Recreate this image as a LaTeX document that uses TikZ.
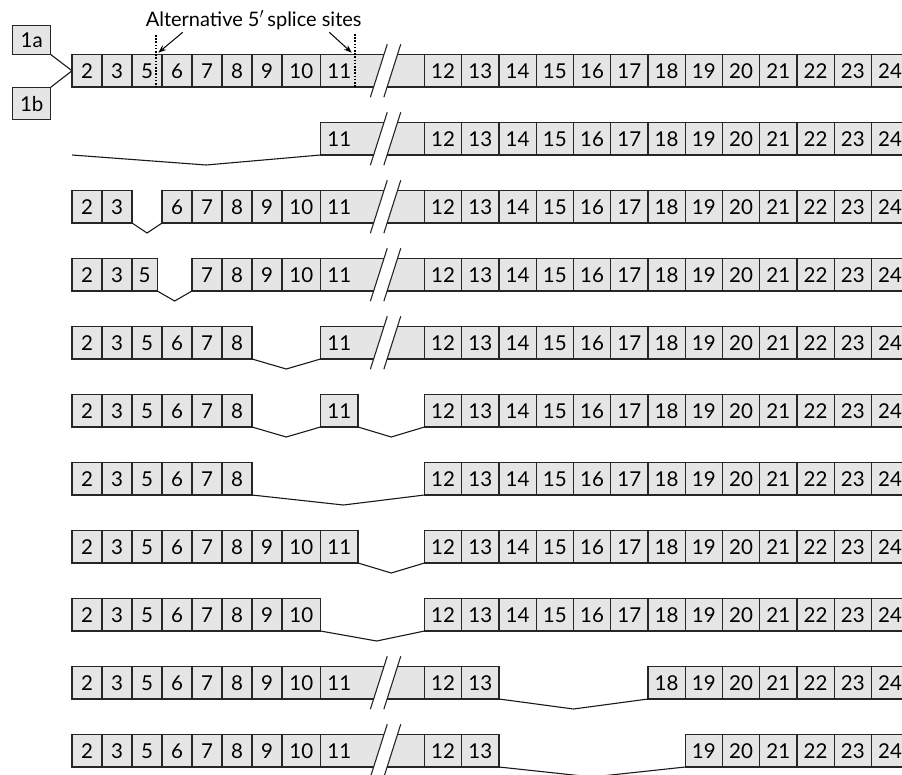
\documentclass[tikz,border=0pt]{standalone}
\usepackage{fontspec}
\setmainfont{Lato}
\usetikzlibrary{arrows.meta,calc}
\newcommand\cellfont{\fontsize{20.5}{20.5}\selectfont}
\newcommand\lblfont{\fontsize{20}{20}\selectfont}
\tikzset{
  exon/.style={draw=black!85, fill=black!10, line width=1.1pt, minimum height=32.5pt,
    inner sep=0pt, outer sep=0pt, anchor=north west, font=\cellfont},
  exlabel/.style={inner sep=0pt, font=\cellfont},
  intron/.style={draw=black!90, line width=1.1pt},
  slash/.style={draw=black!85, line width=1.1pt},
  site/.style={draw=black, line width=1.2pt, dash pattern=on 1.6pt off 1.6pt},
  pointer/.style={draw=black, line width=1pt, -{Stealth[length=8pt,width=6pt]}},
}
\newcommand\cells[2]{\pgfmathsetmacro\rowtop{54.5+68*(#1-1)}%
  \foreach \n/\xx/\w/\t in {#2}{\node[exon,minimum width=\w pt] (r#1e\n) at (\xx,\rowtop) {\t};}}
\newcommand\rcells[2]{\pgfmathsetmacro\rowtop{54.5+68*(#1-1)}%
  \foreach \k in {#2}{\node[exon,minimum width=37.25pt] (r#1e\k) at ({424.5+37.25*(\k-12)},\rowtop) {\k};}}
\newcommand\longeleven[1]{\pgfmathsetmacro\rowtop{54.5+68*(#1-1)}%
  \node[exon,minimum width=104pt] (r#1e11) at (320.5,\rowtop) {};}
\newcommand\elevenlabel[1]{\pgfmathsetmacro\rowtop{54.5+68*(#1-1)}%
  \node[exlabel] (r#1t11) at (339.25,{\rowtop+16.25}) {11};}
\newcommand\brk[1]{\pgfmathsetmacro\rowtop{54.5+68*(#1-1)}%
  \pgfmathsetmacro\brya{\rowtop-1.5}\pgfmathsetmacro\bryb{\rowtop+34}\pgfmathsetmacro\bryc{\rowtop+16.25}%
  \fill[white] ({378.8-0.319*(\brya-\bryc)},\brya) -- ({392.3-0.319*(\brya-\bryc)},\brya)
     -- ({392.3-0.319*(\bryb-\bryc)},\bryb) -- ({378.8-0.319*(\bryb-\bryc)},\bryb) -- cycle;
  \draw[slash] (370.35,{\bryc+26.5}) -- (387.25,{\bryc-26.5});
  \draw[slash] (383.85,{\bryc+26.5}) -- (400.75,{\bryc-26.5});}
\newcommand\intron[3]{\draw[intron] (#1) -- ($(#1)!#3!(#2)+(0,10)$) -- (#2);}
\begin{document}
\begin{tikzpicture}[x=1pt,y=-1pt]
\useasboundingbox (0,0) rectangle (902,774);
\clip (0,0) rectangle (902,774);
% row 1
\node[exon, minimum width=38pt, minimum height=29pt] (e1a) at (12.7,25.5) {1a};
\node[exon, minimum width=38pt] (e1b) at (12.7,87.3) {1b};
\cells{1}{2/72/30/2,3/102/30/3,5/132/30/5,6/162/30/6,7/192/30/7,8/222/30/8,9/252/30/9,10/282/38.5/10}
\longeleven{1}\rcells{1}{12,...,24}\brk{1}\elevenlabel{1}
\draw[intron] (e1a.south east) -- (r1e2.west);
\draw[intron] (e1b.north east) -- (r1e2.west);
\draw[site] (156,35) -- (156,87);
\draw[site] (355,34) -- (355,87);
\node[anchor=base, inner sep=0pt, font=\lblfont] (lbl) at (253.7,26) {Alternative 5$'$\,splice sites};
\coordinate (tipL) at (158.3,52.7);
\coordinate (tipR) at (351.7,52.7);
\draw[pointer] (182.7,32.3) -- (tipL);
\draw[pointer] (329.3,32.3) -- (tipR);
% row 2
\longeleven{2}\rcells{2}{12,...,24}\brk{2}\elevenlabel{2}
\coordinate (r2s) at (72,155);
\intron{r2s}{r2e11.south west}{0.54}
% row 3
\cells{3}{2/72/30/2,3/102/30/3,6/162/30/6,7/192/30/7,8/222/30/8,9/252/30/9,10/282/38.5/10}
\longeleven{3}\rcells{3}{12,...,24}\brk{3}\elevenlabel{3}
\intron{r3e3.south east}{r3e6.south west}{0.5}
% row 4
\cells{4}{2/72/30/2,3/102/30/3,5/132/25.3/5,7/192/30/7,8/222/30/8,9/252/30/9,10/282/38.5/10}
\longeleven{4}\rcells{4}{12,...,24}\brk{4}\elevenlabel{4}
\intron{r4e5.south east}{r4e7.south west}{0.5}
% row 5
\cells{5}{2/72/30/2,3/102/30/3,5/132/30/5,6/162/30/6,7/192/30/7,8/222/30/8}
\longeleven{5}\rcells{5}{12,...,24}\brk{5}\elevenlabel{5}
\intron{r5e8.south east}{r5e11.south west}{0.5}
% row 6
\cells{6}{2/72/30/2,3/102/30/3,5/132/30/5,6/162/30/6,7/192/30/7,8/222/30/8,11/320.5/37.5/11}
\rcells{6}{12,...,24}
\intron{r6e8.south east}{r6e11.south west}{0.5}
\intron{r6e11.south east}{r6e12.south west}{0.5}
% row 7
\cells{7}{2/72/30/2,3/102/30/3,5/132/30/5,6/162/30/6,7/192/30/7,8/222/30/8}
\rcells{7}{12,...,24}
\intron{r7e8.south east}{r7e12.south west}{0.53}
% row 8
\cells{8}{2/72/30/2,3/102/30/3,5/132/30/5,6/162/30/6,7/192/30/7,8/222/30/8,9/252/30/9,10/282/38.5/10,11/320.5/37.5/11}
\rcells{8}{12,...,24}
\intron{r8e11.south east}{r8e12.south west}{0.5}
% row 9
\cells{9}{2/72/30/2,3/102/30/3,5/132/30/5,6/162/30/6,7/192/30/7,8/222/30/8,9/252/30/9,10/282/38.5/10}
\rcells{9}{12,...,24}
\intron{r9e10.south east}{r9e12.south west}{0.54}
% row 10
\cells{10}{2/72/30/2,3/102/30/3,5/132/30/5,6/162/30/6,7/192/30/7,8/222/30/8,9/252/30/9,10/282/38.5/10}
\longeleven{10}\rcells{10}{12,13,18,19,...,24}\brk{10}\elevenlabel{10}
\intron{r10e13.south east}{r10e18.south west}{0.5}
% row 11
\cells{11}{2/72/30/2,3/102/30/3,5/132/30/5,6/162/30/6,7/192/30/7,8/222/30/8,9/252/30/9,10/282/38.5/10}
\longeleven{11}\rcells{11}{12,13,19,20,...,24}\brk{11}\elevenlabel{11}
\intron{r11e13.south east}{r11e19.south west}{0.5}
\end{tikzpicture}
\end{document}
